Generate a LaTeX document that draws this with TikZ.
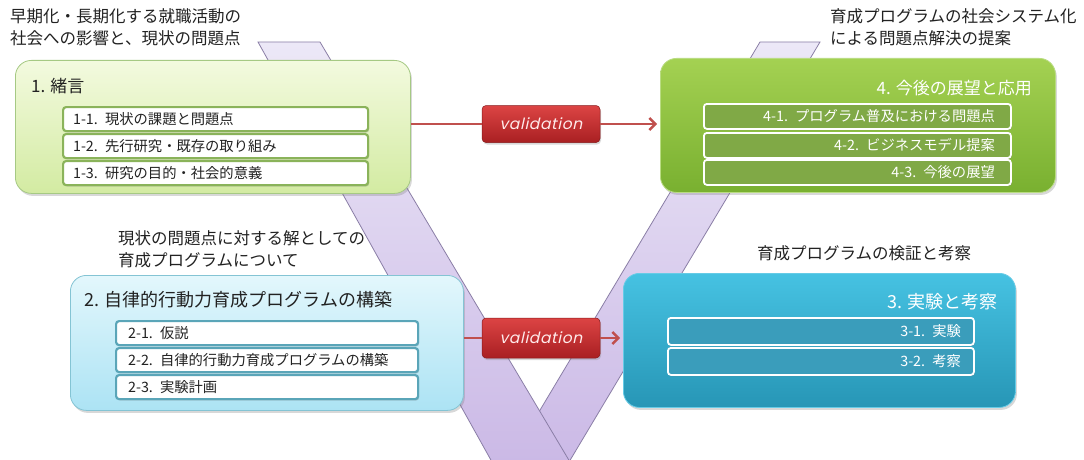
\documentclass[tikz,border=0pt]{standalone}
\usepackage{fontspec}
\setmainfont{Noto Sans CJK JP}
\newfontfamily\valfont[FakeSlant=0.22,LetterSpace=4]{Poppins}
\usetikzlibrary{arrows.meta,shadows}
\definecolor{bandtop}{HTML}{ECE8F7}
\definecolor{bandbot}{HTML}{CBB9E6}
\definecolor{bandline}{HTML}{8A7EA6}
\definecolor{bAtop}{HTML}{F3FADF}
\definecolor{bAbot}{HTML}{D3EBA2}
\definecolor{bAline}{HTML}{A6C984}
\definecolor{bBtop}{HTML}{E3F7FC}
\definecolor{bBbot}{HTML}{ACE3F4}
\definecolor{bBline}{HTML}{84C4D4}
\definecolor{bDtop}{HTML}{A4D152}
\definecolor{bDbot}{HTML}{79B030}
\definecolor{bDline}{HTML}{B9DC82}
\definecolor{bCtop}{HTML}{46C2E2}
\definecolor{bCbot}{HTML}{2796B6}
\definecolor{bCline}{HTML}{66CBE6}
\definecolor{sAline}{HTML}{8AB35A}
\definecolor{sBline}{HTML}{5AA5B8}
\definecolor{sDfill}{HTML}{80A946}
\definecolor{sCfill}{HTML}{3A9DBB}
\definecolor{vtop}{HTML}{DC4444}
\definecolor{vbot}{HTML}{A91F22}
\definecolor{varr}{HTML}{C0504D}
\definecolor{anntext}{HTML}{222222}
\begin{document}
\begin{tikzpicture}[x=1pt,y=-1pt,
  band/.style={draw=bandline,line width=0.8pt,top color=bandtop,bottom color=bandbot},
  bigbox/.style={rectangle,rounded corners=16pt,line width=0.8pt,anchor=north west,
    drop shadow={shadow xshift=1.5pt,shadow yshift=-2.5pt,opacity=0.3}},
  boxA/.style={bigbox,draw=bAline,top color=bAtop,bottom color=bAbot},
  boxB/.style={bigbox,draw=bBline,top color=bBtop,bottom color=bBbot},
  boxD/.style={bigbox,draw=bDline,top color=bDtop,bottom color=bDbot},
  boxC/.style={bigbox,draw=bCline,top color=bCtop,bottom color=bCbot},
  title/.style={inner sep=0pt,font=\fontsize{17}{20}\selectfont},
  subbox/.style={rectangle,rounded corners=3pt,anchor=north west,inner ysep=0pt,
    font=\fontsize{14.3}{16}\selectfont,
    drop shadow={shadow xshift=1pt,shadow yshift=-1.5pt,opacity=0.3}},
  subA/.style={subbox,draw=sAline,line width=2.2pt,fill=white,text=anntext,
    inner xsep=10pt,text width=285pt,align=left,minimum height=24pt},
  subB/.style={subbox,draw=sBline,line width=2.2pt,fill=white,text=anntext,
    inner xsep=12pt,text width=278pt,align=left,minimum height=24pt},
  subD/.style={subbox,draw=white,line width=1.8pt,fill=sDfill,text=white,
    inner xsep=16pt,text width=275pt,align=right,minimum height=25pt},
  subC/.style={subbox,draw=white,line width=1.8pt,fill=sCfill,text=white,
    inner xsep=13pt,text width=280pt,align=right,minimum height=27pt},
  ann/.style={inner sep=0pt,align=left,text=anntext,font=\fontsize{16.5}{22}\selectfont},
  valbox/.style={rectangle,rounded corners=4pt,top color=vtop,bottom color=vbot,
    draw=vbot!80!black,line width=0.5pt,text=white!92!red,
    font=\valfont\fontsize{15.5}{18}\selectfont,
    drop shadow={shadow xshift=1pt,shadow yshift=-2pt,opacity=0.3}},
  varrow/.style={draw=varr,line width=2.6pt,-{Straight Barb[length=6pt,width=12pt,line width=2.4pt]}},
  vline/.style={draw=varr,line width=2.6pt}
]
\fill[white] (0,0) rectangle (1084,460);
\useasboundingbox (0,0) rectangle (1084,460);
\begin{scope}
\clip (0,0) rectangle (1084,460);
\path[band] (760,42) -- (820,42) -- (569,462) -- (509,462) -- cycle;
\path[band] (258,42) -- (320,42) -- (570,462) -- (492,462) -- cycle;
\end{scope}

% annotations
\node[ann,anchor=north west] (a1) at (10,8) {早期化・長期化する就職活動の\\社会への影響と、現状の問題点};
\node[ann,anchor=north west] (a2) at (830,8) {育成プログラムの社会システム化\\による問題点解決の提案};
\node[ann,anchor=north west] (a3) at (118,230) {現状の問題点に対する解としての\\育成プログラムについて};
\node[ann,anchor=west] (a4) at (757,253) {育成プログラムの検証と考察};

% box 1
\node[boxA,minimum width=395pt,minimum height=133pt] (b1) at (15,60) {};
\node[title,anchor=west,text=anntext] (t1) at (31,86) {1. 緒言};
\node[subA] (s11) at (62,106) {1-1. 現状の課題と問題点};
\node[subA] (s12) at (62,133) {1-2. 先行研究・既存の取り組み};
\node[subA] (s13) at (62,160) {1-3. 研究の目的・社会的意義};

% box 4
\node[boxD,minimum width=395pt,minimum height=134pt] (b4) at (660,58) {};
\node[title,anchor=east,text=white] (t4) at (1032,88) {4. 今後の展望と応用};
\node[subD] (s41) at (703,103) {4-1. プログラム普及における問題点};
\node[subD] (s42) at (703,132) {4-2. ビジネスモデル提案};
\node[subD] (s43) at (703,159) {4-3. 今後の展望};

% box 2
\node[boxB,minimum width=393pt,minimum height=135pt] (b2) at (70,275) {};
\node[title,anchor=west,text=anntext,font=\fontsize{18}{20}\selectfont] (t2) at (84,300) {2. 自律的行動力育成プログラムの構築};
\node[subB] (s21) at (115,320) {2-1. 仮説};
\node[subB] (s22) at (115,347) {2-2. 自律的行動力育成プログラムの構築};
\node[subB] (s23) at (115,374) {2-3. 実験計画};

% box 3
\node[boxC,minimum width=392pt,minimum height=134pt] (b3) at (623,273) {};
\node[title,anchor=east,text=white,font=\fontsize{18}{20}\selectfont] (t3) at (998,302) {3. 実験と考察};
\node[subC] (s31) at (667,317) {3-1. 実験};
\node[subC] (s32) at (667,347) {3-2. 考察};

% validation
\node[valbox,minimum width=118pt,minimum height=37pt] (v1) at (541,124) {validation};
\node[valbox,minimum width=118pt,minimum height=40pt] (v2) at (541,338) {validation};
\draw[vline] (b1.east |- v1.west) -- (v1.west);
\draw[varrow] (v1.east) -- ([xshift=-3pt]b4.west |- v1.east);
\draw[vline] (b2.east |- v2.west) -- (v2.west);
\draw[varrow] (v2.east) -- ([xshift=-3pt]b3.west |- v2.east);
\end{tikzpicture}
\end{document}
